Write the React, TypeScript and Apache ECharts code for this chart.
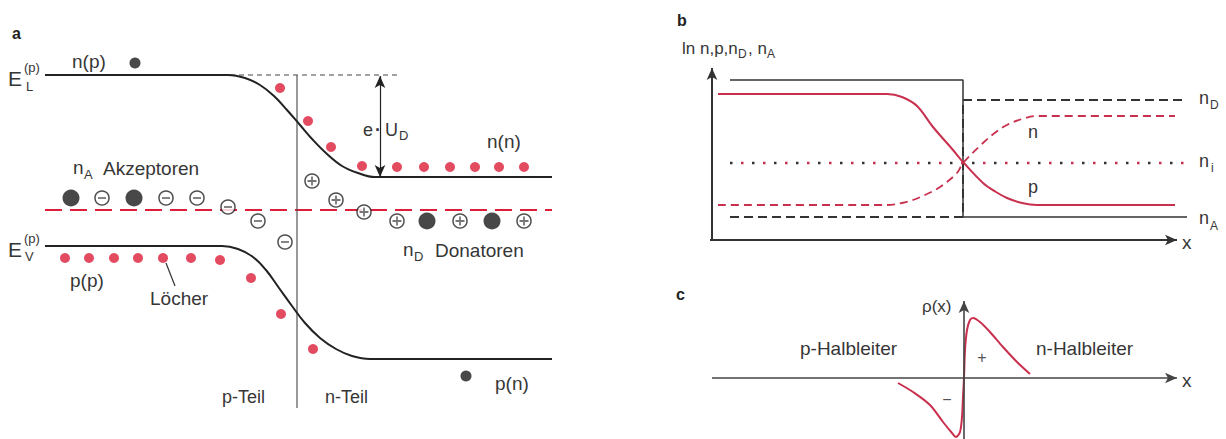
import React, { useEffect, useRef } from 'react';
import * as echarts from 'echarts';

// ---------- Panel a: band diagram (x = position, y = energy level, drawn downwards) ----------
const conductionBand = [[45,75],[228,75],[245,78],[260,85],[274,96],[287,110],[300,125],[313,140],[327,154],[342,166],[358,173],[375,177],[552,177]];
const valenceBand = [[45,246],[222,246],[238,249],[253,257],[266,270],[279,288],[292,306],[305,323],[320,338],[336,349],[352,356],[370,359],[552,359]];
const fermiLevel = [[45,210],[552,210]];
const conductionRef = [[230,75],[400,75]];
const junctionLine = [[297,75],[297,408]];
const locherLeader = [[166,263],[175,286]];
const electrons = [[280,88],[308,121],[331,147],[362,166],[397,167],[424,167],[450,167],[475,167],[499,167],[524,167]];
const holes = [[65,258],[89,258],[114,258],[138,258],[163,258],[191,258],[220,260],[251,278],[281,314],[313,349]];
const minorityCarriers = [[135,63],[466,376]];
const neutralAtoms = [[71,198],[134,198],[427,221],[492,221]];
const acceptorIons = [[102,198],[166,198],[197,198],[228,207],[258,221],[285,242]];
const donorIons = [[312,181],[336,200],[364,212],[397,221],[460,221],[524,221]];
const diffusionVoltage = [[380,76],[380,177]];

// ---------- Panel b: ln of concentrations ----------
const holeConc = [[6,146],[175,146],[190,143],[205,134],[221,113],[241,90],[251,78],[271,57],[284,48],[295,42],[310,37],[325,35],[463,35]];
const electronConc = [[6,35],[175,35],[190,37],[201,40],[215,46],[228,53],[245,67],[251,77],[271,97],[284,108],[295,115],[310,121],[325,124],[463,124]];
const acceptorConc = [[18,160],[251,160],[251,23],[475,23]];
const donorConc = [[18,23],[251,23],[251,140],[475,140]];
const intrinsicConc = [[18,77],[478,77]];
const axisBx = [[-2,0],[465,0]];
const axisBy = [[0,0],[0,172]];

// ---------- Panel c: space charge density ----------
const chargeDensity = [[-66,-5],[-51,-14],[-34,-27],[-21,-44],[-12,-55],[-8,-59],[-4,-54],[-2,-39],[-1,-19],[0,0],[1,28],[3,48],[6,58],[9,60],[16,56],[26,46],[39,31],[53,16],[66,4]];
const axisCx = [[-252,0],[213,0]];
const axisCy = [[0,-61],[0,77]];

const FONT = '"Liberation Sans", Arial, Helvetica, sans-serif';
const TXT = '#363636';
const RED_DOT = '#dc1e3a';
const RED_LINE = '#c8304e';
const DARK = '#222';

const txt = (x: number, y: number, text: string, size = 19, extra: any = {}) => ({
  type: 'text', x, y, silent: true, z: 100,
  style: { text, fontSize: size, fontFamily: FONT, fill: TXT, align: 'left', verticalAlign: 'middle', ...extra },
});

const line = (data: number[][], g: number, lineStyle: any, extra: any = {}) => ({
  type: 'line', data, xAxisIndex: g, yAxisIndex: g, symbol: 'none', showSymbol: false,
  silent: true, clip: false, lineStyle, z: 2, ...extra,
});

const arrowLine = (seg: number[][], g: number, symbol: string[], color = '#333', width = 1.8) => ({
  type: 'line', data: [], xAxisIndex: g, yAxisIndex: g, symbol: 'none', silent: true, clip: false,
  markLine: {
    silent: true, animation: false, symbol, symbolSize: [8, 12],
    label: { show: false }, emphasis: { disabled: true },
    lineStyle: { type: 'solid', color, width },
    data: [[{ coord: seg[0] }, { coord: seg[1] }]],
  },
});

const scatter = (data: number[][], g: number, extra: any) => ({
  type: 'scatter', data, xAxisIndex: g, yAxisIndex: g, silent: true, clip: false, ...extra,
});

export default function App() {
  const ref = useRef<HTMLDivElement>(null);
  useEffect(() => {
    if (!ref.current) return;
    const chart = echarts.init(ref.current, undefined, { renderer: 'svg' });
    const hidden = { show: false };
    const option: any = {
      animation: false,
      backgroundColor: '#fff',
      grid: [
        { left: 0, top: 0, width: 600, height: 439, containLabel: false },
        { left: 700, top: 40, width: 500, height: 220, containLabel: false },
        { left: 700, top: 290, width: 500, height: 149, containLabel: false },
      ],
      xAxis: [
        { gridIndex: 0, type: 'value', min: 0, max: 600, ...hidden },
        { gridIndex: 1, type: 'value', min: -12, max: 488, ...hidden },
        { gridIndex: 2, type: 'value', min: -264, max: 236, ...hidden },
      ],
      yAxis: [
        { gridIndex: 0, type: 'value', min: 0, max: 439, inverse: true, ...hidden },
        { gridIndex: 1, type: 'value', min: -20, max: 200, ...hidden },
        { gridIndex: 2, type: 'value', min: -61, max: 88, ...hidden },
      ],
      series: [
        // panel a
        line(fermiLevel, 0, { color: RED_DOT, width: 2, type: [17, 8] }),
        line(conductionRef, 0, { color: '#444', width: 1, type: [5, 4] }),
        line(junctionLine, 0, { color: '#555', width: 1.2 }),
        line(locherLeader, 0, { color: '#333', width: 1.2 }),
        line(conductionBand, 0, { color: DARK, width: 2 }, { smooth: 0.4 }),
        line(valenceBand, 0, { color: DARK, width: 2 }, { smooth: 0.4 }),
        arrowLine(diffusionVoltage, 0, ['arrow', 'arrow'], '#222', 1.2),
        scatter(electrons, 0, { symbolSize: 10, itemStyle: { color: RED_DOT }, z: 5 }),
        scatter(holes, 0, { symbolSize: 10, itemStyle: { color: RED_DOT }, z: 5 }),
        scatter(minorityCarriers, 0, { symbolSize: 11, itemStyle: { color: '#1a1a1a' }, z: 5 }),
        scatter(neutralAtoms, 0, { symbolSize: 17, itemStyle: { color: '#1a1a1a' }, z: 5 }),
        scatter(acceptorIons, 0, { symbolSize: 14, itemStyle: { color: '#fff', borderColor: '#222', borderWidth: 1.5 }, z: 5 }),
        scatter(acceptorIons, 0, { symbol: 'rect', symbolSize: [8, 1.8], itemStyle: { color: '#555' }, z: 6 }),
        scatter(donorIons, 0, { symbolSize: 14, itemStyle: { color: '#fff', borderColor: '#222', borderWidth: 1.5 }, z: 5 }),
        scatter(donorIons, 0, { symbol: 'path://M4,0H6V10H4Z M0,4H10V6H0Z', symbolSize: 9, itemStyle: { color: '#555' }, z: 6 }),
        // panel b
        line(acceptorConc, 1, { color: '#333', width: 1.5 }),
        line(donorConc, 1, { color: '#333', width: 2, type: [9, 5] }),
        line(intrinsicConc, 1, { color: '#333', width: 2.5, type: [2.5, 19.5] }),
        line(intrinsicConc, 1, { color: RED_LINE, width: 2.5, type: [2.5, 19.5], dashOffset: -11 }),
        line(holeConc, 1, { color: RED_LINE, width: 2 }, { smooth: 0.35 }),
        line(electronConc, 1, { color: RED_LINE, width: 1.8, type: [8, 5] }, { smooth: 0.35 }),
        arrowLine(axisBx, 1, ['none', 'arrow'], '#333', 2),
        arrowLine(axisBy, 1, ['none', 'arrow'], '#333', 2),
        // panel c
        arrowLine(axisCx, 2, ['none', 'arrow'], '#444', 1.6),
        arrowLine(axisCy, 2, ['none', 'arrow'], '#444', 1.6),
        line(chargeDensity, 2, { color: RED_LINE, width: 2 }, { smooth: 0.3 }),
      ],
      graphic: [
        // panel a
        txt(12, 33, 'a', 16, { fontWeight: 'bold', fill: '#222' }),
        txt(8, 78, 'E', 21),
        txt(24, 67, '(p)', 13),
        txt(26, 86, 'L', 13),
        txt(8, 249, 'E', 21),
        txt(24, 238, '(p)', 13),
        txt(25, 256, 'V', 13),
        txt(72, 61, 'n(p)'),
        txt(363, 130, 'e', 18),
        txt(378, 130, '·', 18, { align: 'center', fontWeight: 'bold' }),
        txt(385, 130, 'U', 18),
        txt(399, 135, 'D', 13),
        txt(487, 141, 'n(n)'),
        txt(73, 167, 'n'),
        txt(84, 174, 'A', 13),
        txt(103, 168, 'Akzeptoren'),
        txt(403, 249, 'n'),
        txt(414, 256, 'D', 13),
        txt(435, 250, 'Donatoren'),
        txt(70, 280, 'p(p)'),
        txt(150, 298, 'Löcher'),
        txt(222, 397, 'p-Teil', 18),
        txt(325, 397, 'n-Teil', 18),
        txt(495, 383, 'p(n)'),
        // panel b
        txt(677, 20, 'b', 16, { fontWeight: 'bold', fill: '#222' }),
        txt(682, 48, 'ln n,p,n', 17),
        txt(738, 54, 'D', 12),
        txt(748, 48, ', n', 17),
        txt(767, 54, 'A', 12),
        txt(1199, 98, 'n', 18),
        txt(1210, 105, 'D', 12),
        txt(1028, 132, 'n', 18),
        txt(1199, 161, 'n', 18),
        txt(1211, 168, 'i', 12),
        txt(1028, 187, 'p', 18),
        txt(1199, 218, 'n', 18),
        txt(1210, 226, 'A', 12),
        txt(1182, 242, 'x', 19),
        // panel c
        txt(676, 294, 'c', 16, { fontWeight: 'bold', fill: '#222' }),
        txt(922, 306, 'ρ(x)', 17),
        txt(800, 348, 'p-Halbleiter'),
        txt(1036, 348, 'n-Halbleiter'),
        txt(982, 357, '+', 16, { align: 'center', fill: '#555' }),
        txt(947, 399, '−', 16, { align: 'center', fill: '#555' }),
        txt(1182, 380, 'x', 19),
      ],
    };
    chart.setOption(option);
    return () => chart.dispose();
  }, []);
  return <div ref={ref} style={{ position: 'absolute', left: 0, top: 0, width: 1226, height: 439 }} />;
}
